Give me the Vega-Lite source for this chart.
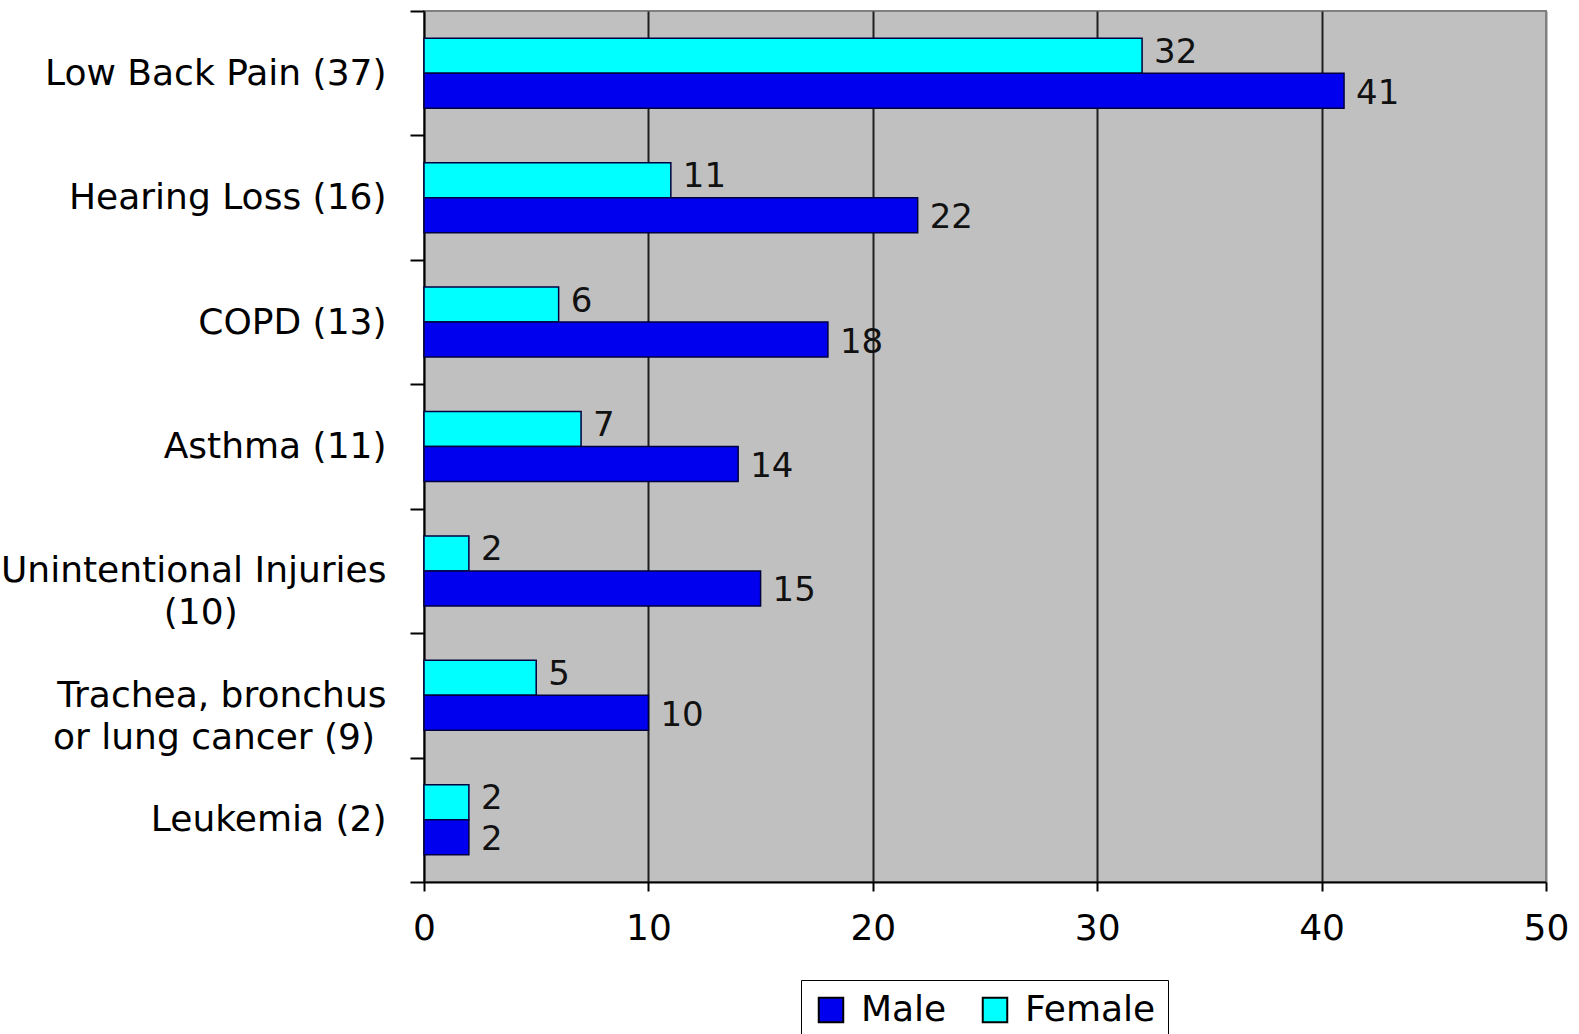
{
  "$schema": "https://vega.github.io/schema/vega-lite/v6.json",
  "width": 1122,
  "height": 871,
  "autosize": {"type": "none"},
  "padding": {"left": 424, "top": 11, "right": 33, "bottom": 152},
  "background": "white",
  "data": {
    "values": [
      {"cause": "Low Back Pain (37)", "sex": "Female", "value": 32},
      {"cause": "Low Back Pain (37)", "sex": "Male", "value": 41},
      {"cause": "Hearing Loss (16)", "sex": "Female", "value": 11},
      {"cause": "Hearing Loss (16)", "sex": "Male", "value": 22},
      {"cause": "COPD (13)", "sex": "Female", "value": 6},
      {"cause": "COPD (13)", "sex": "Male", "value": 18},
      {"cause": "Asthma (11)", "sex": "Female", "value": 7},
      {"cause": "Asthma (11)", "sex": "Male", "value": 14},
      {"cause": "Unintentional Injuries (10)", "sex": "Female", "value": 2},
      {"cause": "Unintentional Injuries (10)", "sex": "Male", "value": 15},
      {"cause": "Trachea, bronchus or lung cancer (9)", "sex": "Female", "value": 5},
      {"cause": "Trachea, bronchus or lung cancer (9)", "sex": "Male", "value": 10},
      {"cause": "Leukemia (2)", "sex": "Female", "value": 2},
      {"cause": "Leukemia (2)", "sex": "Male", "value": 2}
    ]
  },
  "encoding": {
    "y": {
      "field": "cause",
      "type": "nominal",
      "sort": ["Low Back Pain (37)", "Hearing Loss (16)", "COPD (13)", "Asthma (11)", "Unintentional Injuries (10)", "Trachea, bronchus or lung cancer (9)", "Leukemia (2)"],
      "title": null,
      "scale": {"paddingInner": 0, "paddingOuter": 0},
      "axis": {
        "tickBand": "extent",
        "grid": false,
        "domainColor": "black",
        "domainWidth": 2,
        "tickColor": "black",
        "tickWidth": 2,
        "tickSize": 14,
        "labelPadding": 24,
        "labelFont": "DejaVu Sans",
        "labelFontSize": 36,
        "labelColor": "black",
        "labelLimit": 0,
        "labelLineHeight": 42,
        "labelExpr": "datum.value == 'Unintentional Injuries (10)' ? ['Unintentional Injuries', '(10)\u00a0\u00a0\u00a0\u00a0\u00a0\u00a0\u00a0\u00a0\u00a0\u00a0\u00a0\u00a0\u00a0\u200b'] : datum.value == 'Trachea, bronchus or lung cancer (9)' ? ['Trachea, bronchus', 'or lung cancer (9)\u00a0\u200b'] : datum.value"
      }
    },
    "yOffset": {
      "field": "sex",
      "type": "nominal",
      "sort": ["Female", "Male"],
      "scale": {"paddingInner": 0, "paddingOuter": 0.777}
    },
    "x": {
      "field": "value",
      "type": "quantitative",
      "title": null,
      "scale": {"domain": [0, 50]},
      "axis": {
        "values": [0, 10, 20, 30, 40, 50],
        "grid": true,
        "gridColor": {"condition": {"test": "datum.value == 50 || datum.value == 0", "value": "#808080"}, "value": "#1e1e1e"},
        "gridWidth": 2,
        "domainColor": "black",
        "domainWidth": 2,
        "tickColor": "black",
        "tickWidth": 2,
        "tickSize": 9,
        "labelPadding": 20,
        "labelFlush": false,
        "labelFont": "DejaVu Sans",
        "labelFontSize": 36,
        "labelColor": "black"
      }
    }
  },
  "layer": [
    {
      "mark": {"type": "bar", "stroke": "#000040", "strokeWidth": 1.5},
      "encoding": {
        "color": {
          "field": "sex",
          "type": "nominal",
          "scale": {"domain": ["Male", "Female"], "range": ["#0000ee", "#00ffff"]},
          "legend": {
            "orient": "none",
            "legendX": 377,
            "legendY": 969,
            "direction": "horizontal",
            "title": null,
            "symbolType": "square",
            "symbolSize": 600,
            "symbolStrokeColor": "black",
            "symbolStrokeWidth": 2,
            "labelFont": "DejaVu Sans",
            "labelFontSize": 36,
            "labelColor": "black",
            "labelLimit": 0,
            "labelOffset": 12,
            "columnPadding": 30,
            "padding": 12,
            "strokeColor": "black"
          }
        }
      }
    },
    {
      "transform": [{"filter": "datum.sex == 'Female'"}],
      "mark": {"type": "text", "align": "left", "baseline": "middle", "dx": 12, "dy": -3, "font": "DejaVu Sans", "fontSize": 34, "color": "#111111"},
      "encoding": {"text": {"field": "value", "type": "quantitative"}}
    },
    {
      "transform": [{"filter": "datum.sex == 'Male'"}],
      "mark": {"type": "text", "align": "left", "baseline": "middle", "dx": 12, "dy": 3, "font": "DejaVu Sans", "fontSize": 34, "color": "#111111"},
      "encoding": {"text": {"field": "value", "type": "quantitative"}}
    }
  ],
  "config": {
    "view": {"fill": "#c0c0c0", "stroke": "#808080", "strokeWidth": 2}
  }
}
